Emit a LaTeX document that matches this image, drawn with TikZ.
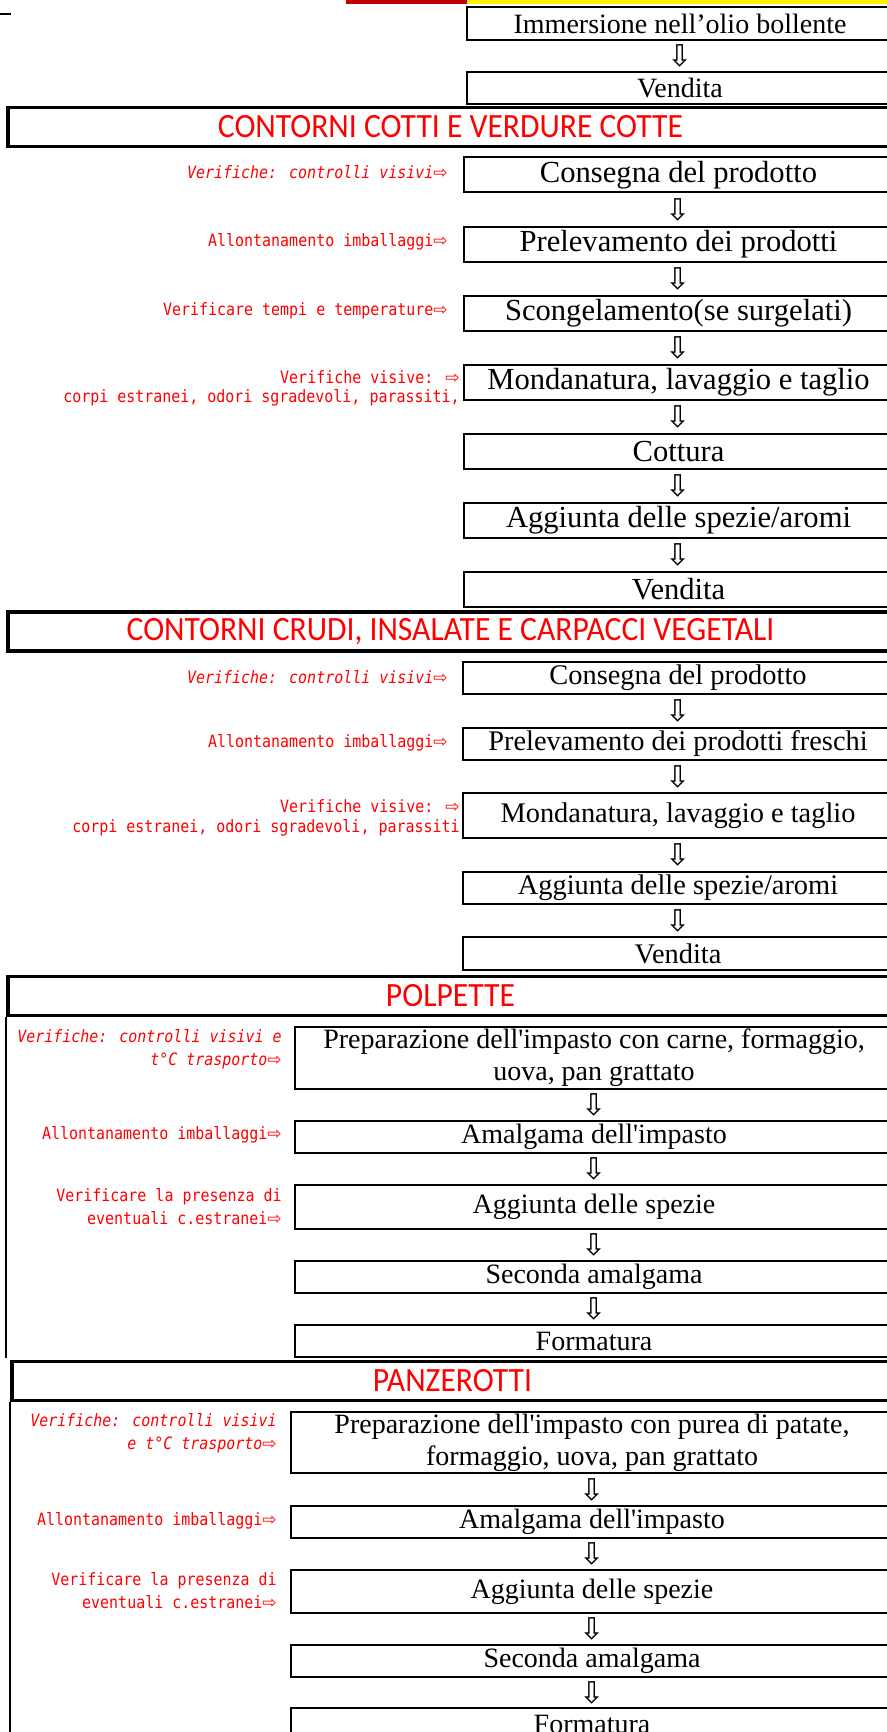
\documentclass[tikz,border=0pt]{standalone}
\usepackage{fontspec}
\setmainfont{Liberation Serif}
\newfontfamily\headfont[FakeStretch=0.93]{Carlito}
\newfontfamily\notefont[FakeStretch=0.88]{DejaVu Sans Mono}
\newfontfamily\symfont{DejaVu Sans}
\definecolor{barred}{RGB}{192,0,0}
\newcommand{\notearrow}{{\upshape\symfont ⇨}}
\newcommand{\downarrowsym}{{\symfont ⇩}}
\begin{document}
\begin{tikzpicture}[x=0.5pt,y=-0.5pt,
    stepbox/.style={draw,line width=1pt,inner sep=0pt,align=center,
      font=\fontsize{14}{16}\selectfont},
    headbox/.style={draw,line width=1.75pt,inner sep=0pt,text=red,
      minimum height=19.5pt,font=\headfont\fontsize{17}{19}\selectfont},
    note/.style={anchor=east,inner sep=0pt,align=right,text=red,
      font=\notefont\fontsize{8.5}{9.8}\selectfont},
    widenote/.style={note,font=\notefont\fontsize{8.5}{11.4}\selectfont},
    darr/.style={inner sep=0pt,font=\fontsize{15}{15}\selectfont},
    topcol/.style={stepbox,minimum width=213.5pt},
    cotcol/.style={stepbox,minimum width=214.5pt,font=\fontsize{15.3}{17}\selectfont},
    crucol/.style={stepbox,minimum width=215pt,font=\fontsize{14.2}{16}\selectfont},
    polcol/.style={stepbox,minimum width=299pt},
    pancol/.style={stepbox,minimum width=301pt}]
\useasboundingbox (0,0) rectangle (887,1732);
\clip (0,0) rectangle (887,1732);

% Coloured strip on the top edge
\fill [barred] (346,0) rectangle (467,4);%
\fill [yellow] (467,0) rectangle (887,4);%
\draw [line width=1pt] (0,14) -- (11,14);%

% Last steps of the previous sheet
\node [topcol,minimum height=16.5pt] (imm) at (680,23.5) {Immersione nell’olio bollente};%
\node [topcol,minimum height=16pt] (ven) at (680,88) {Vendita};%
\path (imm) -- node [darr] {\downarrowsym} (ven);%

% CONTORNI COTTI
\node [headbox,minimum width=442.5pt] (hcot) at (450.5,127) {CONTORNI COTTI E VERDURE COTTE};%
\node [cotcol,minimum height=17.5pt] (cot1) at (678.5,175) {Consegna del prodotto};%
\node [cotcol,minimum height=17.5pt] (cot2) at (678.5,244.5) {Prelevamento dei prodotti};%
\node [cotcol,minimum height=17.5pt] (cot3) at (678.5,313.5) {Scongelamento(se surgelati)};%
\node [cotcol,minimum height=17.5pt] (cot4) at (678.5,382.5) {Mondanatura, lavaggio e taglio};%
\node [cotcol,minimum height=17.5pt] (cot5) at (678.5,451.5) {Cottura};%
\node [cotcol,minimum height=17.5pt] (cot6) at (678.5,520.5) {Aggiunta delle spezie/aromi};%
\node [cotcol,minimum height=17.5pt] (cot7) at (678.5,589.5) {Vendita};%
\foreach \a/\b in {cot1/cot2,cot2/cot3,cot3/cot4,cot4/cot5,cot5/cot6,cot6/cot7}
  \path (\a) -- node [darr] {\downarrowsym} (\b);%
\node [note] (ncot1) at (448,172) {{\itshape Verifiche: controlli visivi}\notearrow};%
\node [note] (ncot2) at (448,242) {Allontanamento imballaggi\notearrow};%
\node [note] (ncot3) at (448,311) {Verificare tempi e temperature\notearrow};%
\node [note] (ncot4) at (460,388.5) {Verifiche visive: \notearrow\\corpi estranei, odori sgradevoli, parassiti,};%

% CONTORNI CRUDI
\node [headbox,minimum width=442.5pt] (hcru) at (450.5,631.5) {CONTORNI CRUDI, INSALATE E CARPACCI VEGETALI};%
\node [crucol,minimum height=16pt] (cru1) at (678,678) {Consegna del prodotto};%
\node [crucol,minimum height=16pt] (cru2) at (678,744) {Prelevamento dei prodotti freschi};%
\node [crucol,minimum height=22.5pt] (cru3) at (678,815.5) {Mondanatura, lavaggio e taglio};%
\node [crucol,minimum height=16pt] (cru4) at (678,888) {Aggiunta delle spezie/aromi};%
\node [crucol,minimum height=16.5pt] (cru5) at (678,953.5) {Vendita};%
\foreach \a/\b in {cru1/cru2,cru2/cru3,cru3/cru4,cru4/cru5}
  \path (\a) -- node [darr] {\downarrowsym} (\b);%
\node [note] (ncru1) at (448,677) {{\itshape Verifiche: controlli visivi}\notearrow};%
\node [note] (ncru2) at (448,743) {Allontanamento imballaggi\notearrow};%
\node [note] (ncru3) at (460,818) {Verifiche visive: \notearrow\\corpi estranei, odori sgradevoli, parassiti};%

% POLPETTE
\node [headbox,minimum width=442.5pt] (hpol) at (450.5,996) {POLPETTE};%
\node [polcol,minimum height=31pt] (pol1) at (594,1058) {Preparazione dell\textquotesingle impasto con carne, formaggio,\\uova, pan grattato};%
\node [polcol,minimum height=16pt] (pol2) at (594,1137) {Amalgama dell\textquotesingle impasto};%
\node [polcol,minimum height=22pt] (pol3) at (594,1207) {Aggiunta delle spezie};%
\node [polcol,minimum height=16pt] (pol4) at (594,1277) {Seconda amalgama};%
\node [polcol,minimum height=16pt] (pol5) at (594,1341) {Formatura};%
\foreach \a/\b in {pol1/pol2,pol2/pol3,pol3/pol4,pol4/pol5}
  \path (\a) -- node [darr] {\downarrowsym} (\b);%
\draw [line width=1pt] (hpol.south west) -- (hpol.south west |- pol5.south);%
\node [widenote] (npol1) at (282,1049) {\itshape Verifiche: controlli visivi e\\\itshape t°C trasporto\notearrow};%
\node [note] (npol2) at (282,1135) {Allontanamento imballaggi\notearrow};%
\node [widenote] (npol3) at (282,1206.5) {Verificare la presenza di\\eventuali c.estranei\notearrow};%

% PANZEROTTI
\coordinate (bottom) at (0,1740);
\node [headbox,minimum width=440.5pt] (hpan) at (452.5,1381) {PANZEROTTI};%
\node [pancol,minimum height=30.5pt] (pan1) at (592,1442.5) {Preparazione dell\textquotesingle impasto con purea di patate,\\formaggio, uova, pan grattato};%
\node [pancol,minimum height=16pt] (pan2) at (592,1522) {Amalgama dell\textquotesingle impasto};%
\node [pancol,minimum height=21.5pt] (pan3) at (592,1591.5) {Aggiunta delle spezie};%
\node [pancol,minimum height=16pt] (pan4) at (592,1661) {Seconda amalgama};%
\node [pancol,minimum height=16pt] (pan5) at (592,1724) {Formatura};%
\foreach \a/\b in {pan1/pan2,pan2/pan3,pan3/pan4,pan4/pan5}
  \path (\a) -- node [darr] {\downarrowsym} (\b);%
\draw [line width=1pt] (hpan.south west) -- (hpan.south west |- bottom);%
\node [widenote] (npan1) at (277,1433.5) {\itshape Verifiche: controlli visivi\\\itshape e t°C trasporto\notearrow};%
\node [note] (npan2) at (277,1521) {Allontanamento imballaggi\notearrow};%
\node [widenote] (npan3) at (277,1590.5) {Verificare la presenza di\\eventuali c.estranei\notearrow};%
\end{tikzpicture}
\end{document}
